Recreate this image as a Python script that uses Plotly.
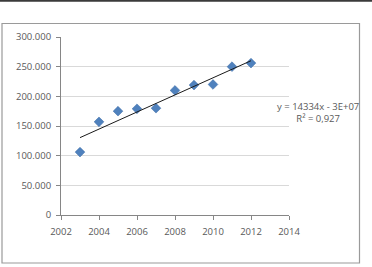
import numpy as np
import plotly.graph_objects as go

years = [2003, 2004, 2005, 2006, 2007, 2008, 2009, 2010, 2011, 2012]
values = [106000, 157000, 175000, 179000, 180000, 210000, 219000, 220000, 250000, 256000]
x_ticks = [2002, 2004, 2006, 2008, 2010, 2012, 2014]
y_ticks = [0, 50000, 100000, 150000, 200000, 250000, 300000]
trend_label = "y = 14334x - 3E+07<br>R² = 0,927"

slope, intercept = np.polyfit(years, values, 1)
tx = [years[0], years[-1]]
ty = [slope * v + intercept for v in tx]

W, H = 372, 267
L, R, T, B = 61, 83, 37, 52
pw, ph = W - L - R, H - T - B

def px(xp):
    return (xp - L) / pw

def py(yp):
    return (H - B - yp) / ph

font = dict(family="Open Sans, Liberation Sans, sans-serif", size=9.5, color="#595959")

fig = go.Figure()
fig.add_trace(go.Scatter(x=years, y=values, mode="markers",
                         marker=dict(symbol="diamond", size=7.5, color="#4F81BD",
                                     line=dict(width=0.5, color="#3A6BA5")),
                         showlegend=False))
fig.add_trace(go.Scatter(x=tx, y=ty, mode="lines",
                         line=dict(color="#1a1a1a", width=1), showlegend=False))

fig.update_layout(
    width=W, height=H,
    margin=dict(l=L, r=R, t=T, b=B),
    paper_bgcolor="white", plot_bgcolor="white",
    separators=",.",
    font=font,
    xaxis=dict(range=[2002, 2014], tickvals=x_ticks, tickformat="d",
               showgrid=False, zeroline=False, showline=True, linecolor="#868686",
               linewidth=1, ticks="outside", ticklen=4, tickcolor="#868686",
               tickfont=font, ticklabelstandoff=4),
    yaxis=dict(range=[0, 300000], tickvals=y_ticks, tickformat=",d",
               showgrid=True, gridcolor="#d9d9d9", gridwidth=1, zeroline=False,
               showline=True, linecolor="#868686", linewidth=1,
               ticks="outside", ticklen=4, tickcolor="#868686", tickfont=font,
               ticklabelstandoff=3),
    annotations=[dict(x=px(318), y=py(98), xref="paper", yref="paper", text=trend_label,
                      showarrow=False, align="center", font=font,
                      xanchor="center", yanchor="top")],
    shapes=[
        dict(type="rect", xref="paper", yref="paper",
             x0=px(2), x1=px(359.5), y0=py(263), y1=py(23.5),
             line=dict(color="#9a9a9a", width=1.2), layer="below"),
        dict(type="line", xref="paper", yref="paper",
             x0=px(0), x1=px(372), y0=py(0.8), y1=py(0.8),
             line=dict(color="#3a3a3a", width=2)),
    ],
)

fig.write_html("out.html")
